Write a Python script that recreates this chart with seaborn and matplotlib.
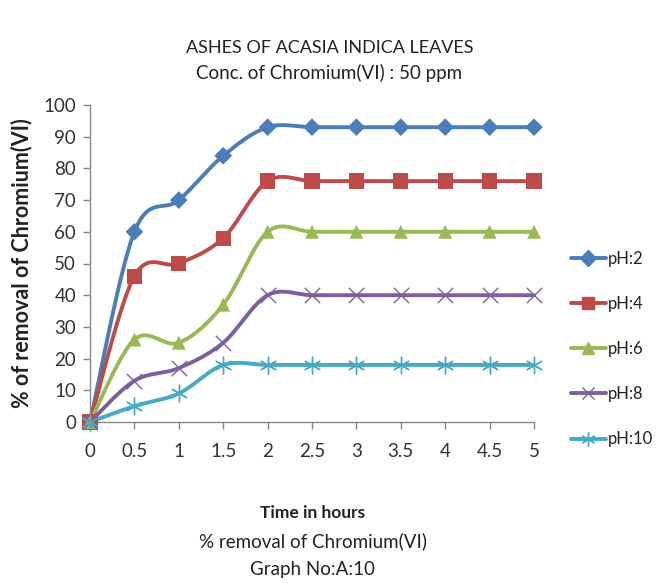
import numpy as np
import pandas as pd
import matplotlib
matplotlib.use("Agg")
import matplotlib.pyplot as plt
from matplotlib.lines import Line2D
import seaborn as sns

# Contact time (hours)
time_h = [0, 0.5, 1, 1.5, 2, 2.5, 3, 3.5, 4, 4.5, 5]
tick_labels = ["0", "0.5", "1", "1.5", "2", "2.5", "3", "3.5", "4", "4.5", "5"]

# % removal of Cr(VI) at each pH
ph2 = [0, 60, 70, 84, 93, 93, 93, 93, 93, 93, 93]
ph4 = [0, 46, 50, 58, 76, 76, 76, 76, 76, 76, 76]
ph6 = [0, 26, 25, 37, 60, 60, 60, 60, 60, 60, 60]
ph8 = [0, 13, 17, 25, 40, 40, 40, 40, 40, 40, 40]
ph10 = [0, 5, 9, 18, 18, 18, 18, 18, 18, 18, 18]

series_names = ["pH:2", "pH:4", "pH:6", "pH:8", "pH:10"]
series_values = [ph2, ph4, ph6, ph8, ph10]
colors = ["#4A7EBB", "#BE4B48", "#98B954", "#7D5FA0", "#46AAC5"]
markers = ["D", "s", "^", "x", (6, 2, 0)]
msizes = [9, 11, 10, 11, 12]


def smooth_curve(xs, ys, n=30):
    """Catmull-Rom path through the points (spreadsheet-style smoothed line)."""
    p = np.column_stack([xs, ys]).astype(float)
    p = np.vstack([p[0], p, p[-1]])
    out = []
    for i in range(1, len(p) - 2):
        p0, p1, p2, p3 = p[i - 1], p[i], p[i + 1], p[i + 2]
        c1 = p1 + (p2 - p0) / 6.0
        c2 = p2 - (p3 - p1) / 6.0
        t = np.linspace(0, 1, n, endpoint=(i == len(p) - 3))[:, None]
        seg = ((1 - t) ** 3) * p1 + 3 * ((1 - t) ** 2) * t * c1 + 3 * (1 - t) * t ** 2 * c2 + t ** 3 * p2
        out.append(seg)
    out = np.vstack(out)
    return out[:, 0], out[:, 1]


sns.set_theme(style="white")
plt.rcParams["font.family"] = ["Lato", "DejaVu Sans"]

fig = plt.figure(figsize=(6.59, 5.83), dpi=100)
ax = fig.add_axes([90 / 659, 1 - 422 / 583, 444 / 659, 317 / 583])

for name, vals, col, mk, ms in zip(series_names, series_values, colors, markers, msizes):
    sx, sy = smooth_curve(time_h, vals)
    curve = pd.DataFrame({"t": sx, "v": sy})
    sns.lineplot(data=curve, x="t", y="v", sort=False, estimator=None,
                 color=col, linewidth=2.8, ax=ax, legend=False, clip_on=False)
    pts = pd.DataFrame({"t": time_h, "v": vals})
    lw = 1.0 if mk in ("x",) or isinstance(mk, tuple) else 0
    sns.scatterplot(data=pts, x="t", y="v", marker=mk, s=ms ** 2, color=col,
                    edgecolor=col if lw else "none", linewidth=lw, ax=ax,
                    legend=False, clip_on=False, zorder=3)

ax.set_xlim(0, 5)
ax.set_ylim(0, 100)
ax.set_xticks(time_h)
ax.set_xticklabels(tick_labels)
ax.set_yticks(range(0, 101, 10))
ax.tick_params(axis="both", labelsize=13.5, colors="#333333", length=5, width=1,
               direction="out", pad=5)
ax.tick_params(axis="x", color="#868686", pad=10)
ax.tick_params(axis="y", color="#868686")
ax.xaxis.set_ticks_position("bottom")
ax.yaxis.set_ticks_position("left")
for side in ["top", "right"]:
    ax.spines[side].set_visible(False)
for side in ["left", "bottom"]:
    ax.spines[side].set_color("#868686")
    ax.spines[side].set_linewidth(1)
ax.set_xlabel("")
ax.set_ylabel("% of removal of Chromium(VI)", fontsize=15.5, fontweight="bold",
              color="#222222", labelpad=8)

fig.text(0.5, 1 - 48 / 583, "ASHES OF ACASIA INDICA LEAVES", ha="center",
         va="center", fontsize=13, color="#222222")
fig.text(0.5, 1 - 73 / 583, "Conc. of Chromium(VI) : 50 ppm", ha="center",
         va="center", fontsize=13.5, color="#222222")

fig.text(313 / 659, 1 - 513 / 583, "Time in hours", ha="center", va="center",
         fontsize=12.5, fontweight="bold", color="#222222")
fig.text(313 / 659, 1 - 541 / 583, "% removal of Chromium(VI)", ha="center",
         va="center", fontsize=13.5, color="#222222")
fig.text(313 / 659, 1 - 570 / 583, "Graph No:A:10", ha="center", va="center",
         fontsize=13.5, color="#222222")

handles = []
for col, mk, ms in zip(colors, markers, msizes):
    handles.append(Line2D([0], [0], color=col, linewidth=2.8, marker=mk,
                          markersize=ms * 0.85, markerfacecolor=col,
                          markeredgecolor=col, markeredgewidth=1.0))
fig.legend(handles, series_names, loc="center left",
           bbox_to_anchor=(564 / 659, 1 - 349 / 583), frameon=False,
           fontsize=12, handlelength=2.1, handletextpad=0.15,
           labelspacing=1.75, borderaxespad=0, labelcolor="#222222")

fig.savefig("out.png", dpi=100)
